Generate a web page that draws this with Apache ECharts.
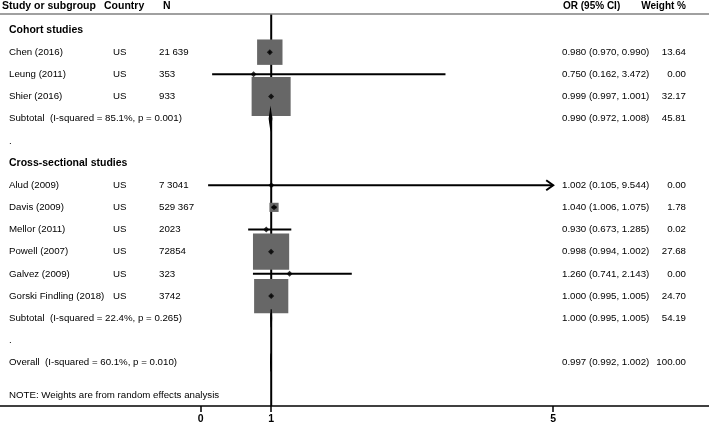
<!DOCTYPE html>
<html><head><meta charset="utf-8">
<script src="https://cdn.jsdelivr.net/npm/echarts@6/dist/echarts.min.js"></script>
<style>html,body{margin:0;padding:0;background:#fff}#c{width:709px;height:426px}</style>
</head><body><div id="c"></div>
<script>
// ---- data ----
const studies = ['Chen (2016)', 'Leung (2011)', 'Shier (2016)', 'Alud (2009)', 'Davis (2009)', 'Mellor (2011)', 'Powell (2007)', 'Galvez (2009)', 'Gorski Findling (2018)'];
const countries = ['US', 'US', 'US', 'US', 'US', 'US', 'US', 'US', 'US'];
const sampleN = ['21 639', '353', '933', '7 3041', '529 367', '2023', '72854', '323', '3742'];
const orEst = [0.980, 0.750, 0.999, 1.002, 1.040, 0.930, 0.998, 1.260, 1.000];
const ciLow = [0.970, 0.162, 0.997, 0.105, 1.006, 0.673, 0.994, 0.741, 0.995];
const ciHigh = [0.990, 3.472, 1.001, 9.544, 1.075, 1.285, 1.002, 2.143, 1.005];
const weights = ['13.64', '0.00', '32.17', '0.00', '1.78', '0.02', '27.68', '0.00', '24.70'];
const studyRows = [1, 2, 3, 7, 8, 9, 10, 11, 12];

const groupLabels = ['Cohort studies', 'Cross-sectional studies'];
const groupRows = [0, 6];
const spacerRows = [5, 14];

const pooledLabels = ['Subtotal  (I-squared = 85.1%, p = 0.001)', 'Subtotal  (I-squared = 22.4%, p = 0.265)', 'Overall  (I-squared = 60.1%, p = 0.010)'];
const pooledEst = [0.990, 1.000, 0.997];
const pooledLow = [0.972, 0.995, 0.992];
const pooledHigh = [1.008, 1.005, 1.002];
const pooledWeights = ['45.81', '54.19', '100.00'];
const pooledRows = [4, 13, 15];

const noteText = 'NOTE: Weights are from random effects analysis';
const noteRow = 16.5;
const headerLabels = ['Study or subgroup', 'Country', 'N', 'OR (95% CI)', 'Weight %'];
const axisTicks = [0, 1, 5];
const nullValue = 1;
const plotMax = 5;

// ---- layout ----
const FONT = '"Liberation Sans", Arial, Helvetica, sans-serif';
const ROWFS = 9.7;
const colStudy = 9, colCountry = 113, colN = 159, colOR = 562, colW = 686;

function fmt(v) { return v.toFixed(3); }
function orText(e, l, h) { return fmt(e) + ' (' + fmt(l) + ', ' + fmt(h) + ')'; }

// text rows
const textRows = [];
groupLabels.forEach((g, i) => textRows.push({ row: groupRows[i], cells: [{ t: g, x: colStudy, bold: true }] }));
spacerRows.forEach(r => textRows.push({ row: r, cells: [{ t: '.', x: colStudy }] }));
studies.forEach((s, i) => textRows.push({
  row: studyRows[i], cells: [
    { t: s, x: colStudy }, { t: countries[i], x: colCountry }, { t: sampleN[i], x: colN },
    { t: orText(orEst[i], ciLow[i], ciHigh[i]), x: colOR }, { t: weights[i], x: colW, right: true }
  ]
}));
pooledLabels.forEach((p, i) => textRows.push({
  row: pooledRows[i], cells: [
    { t: p, x: colStudy },
    { t: orText(pooledEst[i], pooledLow[i], pooledHigh[i]), x: colOR }, { t: pooledWeights[i], x: colW, right: true }
  ]
}));
textRows.push({ row: noteRow, cells: [{ t: noteText, x: colStudy }] });

function txt(x, y, t, opts) {
  opts = opts || {};
  const align = opts.right ? 'right' : 'left';
  return {
    type: 'text',
    style: {
      x: x, y: y, text: t,
      fontSize: opts.bold ? 10.5 : ROWFS,
      fontWeight: opts.bold ? 'bold' : 'normal',
      fontFamily: FONT,
      fill: '#000',
      align: align, textAlign: align,
      verticalAlign: 'middle', textVerticalAlign: 'middle'
    }
  };
}

const chart = echarts.init(document.getElementById('c'), null, { renderer: 'canvas' });

const option = {
  animation: false,
  backgroundColor: '#fff',
  grid: { left: 0, right: 0, top: 14, bottom: 20, containLabel: false },
  xAxis: {
    type: 'value', min: -2.847, max: 7.21, position: 'bottom',
    axisLine: { show: true, onZero: false, lineStyle: { color: '#000', width: 1.5 } },
    axisTick: { show: true, customValues: axisTicks, length: 6, lineStyle: { color: '#000', width: 1.5 } },
    axisLabel: { show: true, customValues: axisTicks, fontSize: 10.5, fontWeight: 'bold', fontFamily: FONT, color: '#000', margin: 8 },
    splitLine: { show: false }
  },
  yAxis: {
    type: 'value', min: -0.722, max: 16.96, inverse: true, show: false,
    axisLine: { show: false }, splitLine: { show: false }
  },
  graphic: [
    { type: 'line', shape: { x1: 0, y1: 14, x2: 709, y2: 14 }, style: { stroke: '#808080', lineWidth: 1.5 }, z: 10 },
    { type: 'text', style: { x: 2, y: 6.5, text: headerLabels[0], font: 'bold 10.5px ' + FONT, fill: '#000', verticalAlign: 'middle' } },
    { type: 'text', style: { x: 104, y: 6.5, text: headerLabels[1], font: 'bold 10.5px ' + FONT, fill: '#000', verticalAlign: 'middle' } },
    { type: 'text', style: { x: 163, y: 6.5, text: headerLabels[2], font: 'bold 10.5px ' + FONT, fill: '#000', verticalAlign: 'middle' } },
    { type: 'text', style: { x: 563, y: 6.5, text: headerLabels[3], font: 'bold 10px ' + FONT, fill: '#000', verticalAlign: 'middle' } },
    { type: 'text', style: { x: 686, y: 6.5, text: headerLabels[4], font: 'bold 10px ' + FONT, fill: '#000', align: 'right', verticalAlign: 'middle' } }
  ],
  series: [
    { // reference line at OR = 1
      type: 'custom', z: 1, silent: true,
      data: [[nullValue]],
      renderItem: function (params, api) {
        const cs = params.coordSys;
        const x = api.coord([api.value(0), 0])[0];
        return { type: 'line', shape: { x1: x, y1: cs.y, x2: x, y2: cs.y + cs.height }, style: { stroke: '#000', lineWidth: 2 } };
      }
    },
    { // weight boxes
      type: 'custom', z: 2, silent: true,
      data: studies.map((s, i) => [orEst[i], studyRows[i], parseFloat(weights[i])]),
      renderItem: function (params, api) {
        const c = api.coord([api.value(0), api.value(1)]);
        const s = 6.88 * Math.sqrt(api.value(2));
        if (s < 0.5) return null;
        return { type: 'rect', shape: { x: c[0] - s / 2, y: c[1] - s / 2, width: s, height: s }, style: { fill: '#676767' } };
      }
    },
    { // confidence intervals
      type: 'custom', z: 3, silent: true,
      data: studies.map((s, i) => [ciLow[i], ciHigh[i], studyRows[i]]),
      renderItem: function (params, api) {
        const lo = api.value(0), hi = api.value(1), r = api.value(2);
        const a = api.coord([lo, r]);
        const b = api.coord([Math.min(hi, plotMax), r]);
        const children = [{ type: 'line', shape: { x1: a[0], y1: a[1], x2: b[0], y2: b[1] }, style: { stroke: '#000', lineWidth: 2 } }];
        if (hi > plotMax) {
          children.push({ type: 'polyline', shape: { points: [[b[0] - 7, b[1] - 5], [b[0], b[1]], [b[0] - 7, b[1] + 5]] }, style: { stroke: '#000', lineWidth: 2, fill: null } });
        }
        return { type: 'group', children: children };
      }
    },
    { // point estimates
      type: 'scatter', z: 4, silent: true,
      symbol: 'diamond', symbolSize: 6,
      itemStyle: { color: '#000' },
      data: studies.map((s, i) => [orEst[i], studyRows[i]])
    },
    { // pooled diamonds
      type: 'custom', z: 4, silent: true,
      data: pooledLabels.map((p, i) => [pooledLow[i], pooledEst[i], pooledHigh[i], pooledRows[i]]),
      renderItem: function (params, api) {
        const r = api.value(3);
        const l = api.coord([api.value(0), r]);
        const e = api.coord([api.value(1), r]);
        const h = api.coord([api.value(2), r]);
        const hh = 9;
        return {
          type: 'polygon',
          shape: { points: [[l[0], l[1]], [e[0], e[1] - hh], [h[0], h[1]], [e[0], e[1] + hh]] },
          style: { fill: '#000', stroke: '#000', lineWidth: 1.2 }
        };
      }
    },
    { // table text
      type: 'custom', z: 5, silent: true,
      data: textRows.map((t, i) => [i, t.row]),
      renderItem: function (params, api) {
        const tr = textRows[api.value(0)];
        const y = api.coord([0, api.value(1)])[1];
        return { type: 'group', children: tr.cells.map(c => txt(c.x, y, c.t, c)) };
      }
    }
  ]
};
chart.setOption(option);
</script>
</body></html>
